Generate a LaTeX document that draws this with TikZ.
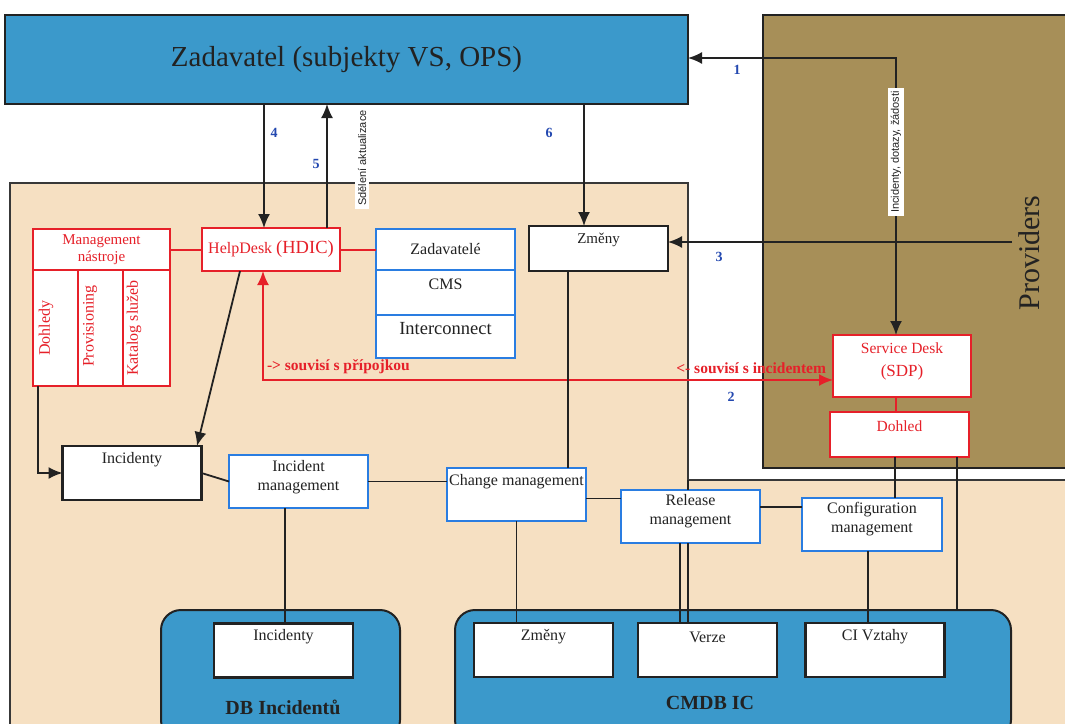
\documentclass[tikz,border=0pt]{standalone}
\usepackage{fontspec}
\setmainfont{Liberation Serif}
\newfontfamily\lsans{Liberation Sans}
\usetikzlibrary{arrows.meta}
\definecolor{zblue}{HTML}{3B99CB}
\definecolor{bgpeach}{HTML}{F6E0C2}
\definecolor{provcol}{HTML}{A78F58}
\definecolor{rbox}{HTML}{E62029}
\definecolor{bbox}{HTML}{2A7DE1}
\definecolor{numblue}{HTML}{2348B0}
\definecolor{ink}{HTML}{222222}
\begin{document}
\begin{tikzpicture}[x=1pt,y=-1pt,
  every node/.style={inner sep=0pt, outer sep=0pt},
  conn/.style={line width=1.8pt, draw=ink},
  redconn/.style={line width=2pt, draw=rbox},
  arr/.style={conn, -{Latex[length=14pt,width=12pt]}},
  dbl/.style={{Latex[length=14pt,width=12pt]}-{Latex[length=14pt,width=12pt]}},
  bbx/.style={draw=ink, line width=2.5pt, fill=white, minimum width=139pt, minimum height=54pt},
  blx/.style={draw=bbox, line width=2.5pt, fill=white, minimum width=139pt, minimum height=53pt},
  rbx/.style={draw=rbox, line width=2pt, fill=white},
  dbx/.style={draw=ink, line width=2pt, fill=zblue, rounded corners=20pt, minimum height=130pt},
  txt/.style={font=\fontsize{16}{19}\selectfont, text=ink, align=center},
  rtxt/.style={font=\fontsize{16}{18}\selectfont, text=rbox, align=center},
  numl/.style={font=\fontsize{14}{16}\selectfont\bfseries, text=numblue},
  vlab/.style={font=\lsans\fontsize{11}{12}\selectfont, text=ink, fill=white, inner xsep=3pt, inner ysep=2.5pt, rotate=90}
]
\clip (0,0) rectangle (1065,723);
\fill[white] (0,0) rectangle (1065,723);
% regions
\draw[fill=bgpeach, draw=ink!90, line width=1.8pt] (10,183) -- (688,183) -- (688,480) -- (1080,480) -- (1080,740) -- (10,740) -- cycle;
\coordinate (tanc) at (688,480);
\node[fill=provcol, draw=ink, line width=1.8pt, minimum width=315pt, minimum height=453pt] (prov) at (920.5,241.5) {};
\node[font=\fontsize{30}{32}\selectfont, text=ink, rotate=90] (provt) at (1029,253) {Providers};
\node[draw=ink, line width=2pt, fill=zblue, minimum width=683pt, minimum height=89pt,
      font=\fontsize{29}{32}\selectfont, text=ink] (zad) at (346.5,59.5) {Zadavatel (subjekty VS, OPS)};

% management tools
\node[rbx, minimum width=137pt, minimum height=41pt, rtxt, font=\fontsize{15}{17}\selectfont] (mgmthead) at (101.5,249.5) {Management\\nástroje};
\node[rbx, minimum width=45pt, minimum height=116pt] (col1) at (55.5,328) {};
\node[rbx, minimum width=45pt, minimum height=116pt] (col2) at (100.5,328) {};
\node[rbx, minimum width=47pt, minimum height=116pt] (col3) at (146.5,328) {};
\node[rtxt, rotate=90] (col1t) at (46,328) {Dohledy};
\node[rtxt, rotate=90] (col2t) at (90,326) {Provisioning};
\node[rtxt, rotate=90] (col3t) at (134,328) {Katalog služeb};

% helpdesk
\node[rbx, minimum width=138pt, minimum height=43pt, text=rbox] (helpdesk) at (271,249.5)
  {\fontsize{16}{18}\selectfont HelpDesk \fontsize{18.5}{20}\selectfont(HDIC)};

% Zadavatele / CMS / Interconnect
\node[blx, minimum height=41pt, txt] (zr1) at (445.5,249.5) {Zadavatelé};
\node[blx, minimum height=45pt] (zr2) at (445.5,292.5) {};
\node[blx, minimum height=43pt] (zr3) at (445.5,336.5) {};
\node[txt] (zr2t) at (445.5,284) {CMS};
\node[txt, font=\fontsize{18.5}{20}\selectfont] (zr3t) at (445.5,329) {Interconnect};

% Zmeny top
\node[bbx, minimum height=45pt] (zmeny) at (598.5,248.5) {};
\node[txt, font=\fontsize{15}{17}\selectfont] (zmenyt) at (598.5,240) {Změny};

% Service desk
\node[rbx, minimum width=138pt, minimum height=62pt] (sdp) at (902,366) {};
\node[rtxt, font=\fontsize{15.5}{17}\selectfont] (sdpt1) at (902,348) {Service Desk};
\node[rtxt, font=\fontsize{17}{19}\selectfont] (sdpt2) at (902,372) {(SDP)};
\node[rbx, minimum width=139pt, minimum height=45pt] (dohled) at (899.5,434.5) {};
\node[rtxt, font=\fontsize{15.5}{17}\selectfont] (dohledt) at (899.5,426) {Dohled};

% middle row
\node[bbx] (incid) at (132,473) {};
\node[txt] (incidt) at (132,460) {Incidenty};
\node[blx] (incmgmt) at (298.5,481.5) {};
\node[txt] (incmgmtt) at (298.5,477) {Incident\\management};
\node[blx] (chgmgmt) at (516.5,494.5) {};
\node[txt] (chgmgmtt) at (516.5,482) {Change management};
\node[blx] (relmgmt) at (690.5,516.5) {};
\node[txt] (relmgmtt) at (690.5,511) {Release\\management};
\node[blx, minimum width=140pt] (cfgmgmt) at (872,524.5) {};
\node[txt] (cfgmgmtt) at (872,519) {Configuration\\management};

% databases
\node[dbx, minimum width=239pt] (dbinc) at (280.5,675) {};
\node[font=\fontsize{20}{22}\selectfont\bfseries, text=ink] (dbinct) at (283,707) {DB Incidentů};
\node[dbx, minimum width=556pt] (cmdb) at (733,675) {};
\node[font=\fontsize{20}{22}\selectfont\bfseries, text=ink] (cmdbt) at (710,703) {CMDB IC};
\node[bbx] (incbot) at (283.5,650.5) {};
\node[txt] (incbott) at (283.5,637) {Incidenty};
\node[bbx] (zmbot) at (543.5,650) {};
\node[txt] (zmbott) at (543.5,637) {Změny};
\node[bbx] (verze) at (707.5,650) {};
\node[txt] (verzet) at (707.5,637) {Verze};
\node[bbx] (civ) at (875,650) {};
\node[txt] (civt) at (875,637) {CI Vztahy};

% connectors
\coordinate (c1) at ([xshift=-6pt]sdp.north);
\draw[conn, dbl] ([yshift=1.5pt]zad.east) -| (c1);
\coordinate (c4) at ([xshift=-7pt]helpdesk.north);
\draw[arr] (c4 |- zad.south) -- (c4);
\coordinate (c5) at ([xshift=56pt]helpdesk.north);
\draw[arr] (c5) -- (c5 |- zad.south);
\coordinate (c6) at ([xshift=-14.5pt]zmeny.north);
\draw[arr] (c6 |- zad.south) -- (c6);
\coordinate (p3) at (1012,242);
\draw[arr] (p3) -- (p3 -| zmeny.east);
\coordinate (c2a) at ([xshift=-8pt]helpdesk.south);
\coordinate (c2b) at ([yshift=-14pt]sdp.west);
\draw[redconn, dbl] (c2a) |- (c2b);
\coordinate (cm) at ([xshift=5pt]col1.south west);
\draw[arr] (cm) |- (incid.west);
\draw[arr] ([xshift=-31pt]helpdesk.south) -- ([xshift=65pt]incid.north);
\draw[redconn] (mgmthead.east) -- (helpdesk.west);
\draw[redconn] (helpdesk.east) -- (zr1.west);
\draw[conn] (incid.east) -- (incmgmt.west);
\draw[conn] (incmgmt.east) -- (incmgmt.east -| chgmgmt.west);
\coordinate (cc) at ([yshift=-4pt]chgmgmt.east);
\draw[conn] (cc) -- (cc -| relmgmt.west);
\coordinate (cr) at ([yshift=9.5pt]relmgmt.east);
\draw[conn] (cr) -- (cr -| cfgmgmt.west);
\coordinate (cz) at ([xshift=-30.5pt]zmeny.south);
\draw[conn] (cz) -- (cz |- chgmgmt.north);
\coordinate (cd1) at ([xshift=-4.5pt]dohled.south);
\draw[conn] (cd1) -- (cd1 |- cfgmgmt.north);
\coordinate (cd2) at ([xshift=57.5pt]dohled.south);
\draw[conn] (cd2) -- (cd2 |- cmdb.north);
\coordinate (cs) at ([xshift=-6pt]sdp.south);
\draw[redconn] (cs) -- (cs |- dohled.north);
\coordinate (ci) at ([xshift=-13.5pt]incmgmt.south);
\draw[conn] (ci) -- (ci |- incbot.north);
\draw[conn] (chgmgmt.south) -- (chgmgmt.south |- zmbot.north);
\coordinate (cv1) at ([xshift=-10.5pt]relmgmt.south);
\draw[conn] (cv1) -- (cv1 |- verze.north);
\coordinate (cv2) at ([xshift=-2.5pt]relmgmt.south);
\draw[conn] (cv2) -- (cv2 |- verze.north);
\coordinate (cf) at ([xshift=-4pt]cfgmgmt.south);
\draw[conn] (cf) -- (cf |- civ.north);
\draw[conn] (tanc) -- (tanc |- relmgmt.north);

% labels
\node[vlab] (lab1) at (896,152) {Incidenty, dotazy, žádosti};
\node[vlab] (lab5) at (362,158) {Sdělení aktualizace};
\node[numl] (n1) at (737,70) {1};
\node[numl] (n2) at (731,397) {2};
\node[numl] (n3) at (719,257) {3};
\node[numl] (n4) at (274,133) {4};
\node[numl] (n5) at (316,164) {5};
\node[numl] (n6) at (549,133) {6};
\node[font=\fontsize{15.5}{17}\selectfont\bfseries, text=rbox, anchor=west] (s1) at (267,367) {-> souvisí s přípojkou};
\node[font=\fontsize{15.5}{17}\selectfont\bfseries, text=rbox, anchor=east] (s2) at (826,368) {<- souvisí s incidentem};
\end{tikzpicture}
\end{document}
